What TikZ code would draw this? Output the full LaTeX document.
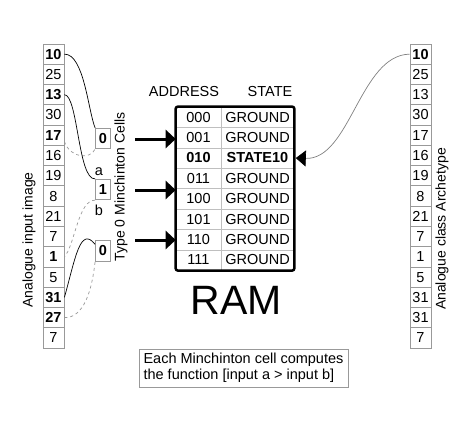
\documentclass[tikz,border=0pt]{standalone}
\usepackage{fontspec}
\setmainfont{Liberation Sans}
\usetikzlibrary{arrows.meta}
\begin{document}
\begin{tikzpicture}[x=1pt,y=-1pt,
    every node/.style={font=\fontsize{14.5}{16}\selectfont},
    pix/.style={draw=gray!80, line width=0.8pt, minimum width=21pt, minimum height=20.27pt, inner sep=0pt},
    mcell/.style={draw=gray!80, line width=0.8pt, minimum width=15pt, minimum height=20.5pt, inner sep=0pt, font=\bfseries\fontsize{14.5}{16}\selectfont},
    addrcell/.style={draw=gray!50, line width=0.6pt, minimum width=45pt, minimum height=20.4pt, inner sep=0pt},
    statecell/.style={draw=gray!50, line width=0.6pt, minimum width=73pt, minimum height=20.4pt, inner sep=0pt},
    sidelabel/.style={rotate=90, font=\fontsize{14}{16}\selectfont},
    wire/.style={line width=0.7pt},
    dwire/.style={gray!80, dashed, line width=0.7pt},
    bigarrow/.style={line width=3pt, -{Triangle[length=10pt,width=18pt]}},
  ]
  \useasboundingbox (0,0) rectangle (474,432);
  % input image and archetype columns
  \foreach \v [count=\i] in {\textbf{10},25,\textbf{13},30,\textbf{17},16,19,8,21,7,\textbf{1},5,\textbf{31},\textbf{27},7}
    \node[pix] (in\i) at (53.5, {44+(\i-0.5)*20.27}) {\v};
  \foreach \v [count=\i] in {\textbf{10},25,13,30,17,16,19,8,21,7,1,5,31,31,7}
    \node[pix] (arch\i) at (420.5, {44+(\i-0.5)*20.27}) {\v};
  \node[sidelabel] (inlabel) at (29,240) {Analogue input image};
  \node[sidelabel] (archlabel) at (442,229) {Analogue class Archetype};
  % minchinton cells
  \node[mcell] (mc1) at (103,138.5) {0};
  \node[mcell] (mc2) at (103,189.5) {1};
  \node[mcell] (mc3) at (103,251) {0};
  \node (la) at (99,172) {a};
  \node (lb) at (99,210) {b};
  \node[sidelabel] (typelabel) at (121,187) {Type 0 Minchinton Cells};
  \draw[wire] (in1.east) .. controls (84,54) and (88,110) .. (mc1.north west);
  \draw[dwire] (in5.-30) .. controls (70,158) and (90,160) .. (mc1.south west);
  \draw[wire] (in3.east) .. controls (78,95) and (78,180) .. (mc2.north west);
  \draw[dwire] (mc2.south west) .. controls (78,200) and (75,245) .. (in11.east);
  \draw[wire] (in13.east) .. controls (75,260) and (80,225) .. (mc3.140);
  \draw[dwire] (in14.east) .. controls (84,318) and (92,290) .. (mc3.south west);
  % RAM table
  \node (addrhead) at (184,92) {ADDRESS};
  \node (statehead) at (270,92) {STATE};
  \foreach \a/\s [count=\i] in {000/GROUND,001/GROUND,\textbf{010}/\textbf{STATE10},011/GROUND,100/GROUND,101/GROUND,110/GROUND,111/GROUND} {
    \node[addrcell] (addr\i) at (198.5, {107+(\i-0.5)*20.4}) {\a};
    \node[statecell] (state\i) at (257.5, {107+(\i-0.5)*20.4}) {\s};
  }
  \draw[line width=2.5pt, rounded corners=2pt] (addr1.north west) rectangle (state8.south east);
  \node[font=\fontsize{41}{41}\selectfont] (ram) at (236,300) {RAM};
  % address lines into the RAM
  \coordinate (s1) at (135,139);
  \coordinate (s2) at (135,190);
  \coordinate (s3) at (135,240);
  \draw[bigarrow] (s1) -- (s1 -| addr2.west);
  \draw[bigarrow] (s2) -- (s2 -| addr5.west);
  \draw[bigarrow] (s3) -- (s3 -| addr7.west);
  \draw[gray, line width=0.7pt, shorten >=1.5pt, -{Triangle[length=10pt,width=16pt,color=black]}] (arch1.west) .. controls (360,55) and (350,160) .. (state3.east);
  \node[draw=gray!80, line width=0.8pt, align=left, minimum width=209pt, minimum height=38pt, inner sep=2pt] (note) at (243.5,368) {Each Minchinton cell computes\\the function [input a > input b]};
\end{tikzpicture}
\end{document}
